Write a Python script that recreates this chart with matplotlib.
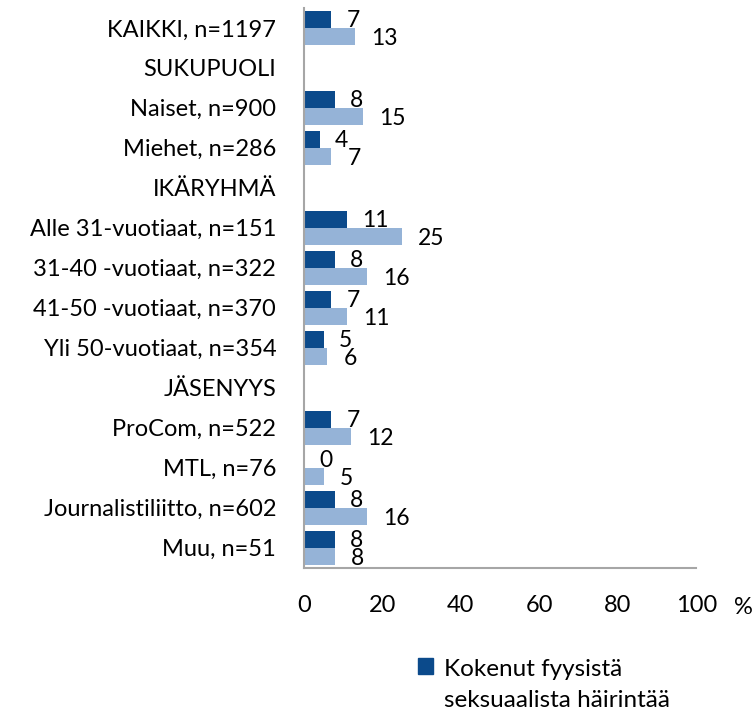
import numpy as np
import matplotlib
matplotlib.use('Agg')
import matplotlib.pyplot as plt
from matplotlib.patches import Patch, Rectangle
from matplotlib.legend_handler import HandlerPatch

plt.rcParams['font.family'] = ['Lato', 'DejaVu Sans']

CATEGORIES = ['KAIKKI, n=1197', 'SUKUPUOLI', 'Naiset, n=900', 'Miehet, n=286',
              'IKÄRYHMÄ', 'Alle 31-vuotiaat, n=151', '31-40 -vuotiaat, n=322',
              '41-50 -vuotiaat, n=370', 'Yli 50-vuotiaat, n=354', 'JÄSENYYS',
              'ProCom, n=522', 'MTL, n=76', 'Journalistiliitto, n=602', 'Muu, n=51']
PHYSICAL = [7, np.nan, 8, 4, np.nan, 11, 8, 7, 5, np.nan, 7, 0, 8, 8]
OTHER = [13, np.nan, 15, 7, np.nan, 25, 16, 11, 6, np.nan, 12, 5, 16, 8]
XTICKS = [0, 20, 40, 60, 80, 100]
LEGEND_LABEL = 'Kokenut fyysistä\nseksuaalista häirintää'

DARK = '#0B4A8B'
LIGHT = '#95B3D7'
AXIS = '#A6A6A6'


def top_square(legend, orig_handle, xdescent, ydescent, width, height, fontsize):
    # lift the square up to the first line of the two-line label
    return Rectangle((-xdescent, -ydescent + 0.8 * fontsize), width, height)


fig = plt.figure(figsize=(7.56, 7.15), dpi=100, facecolor='white')
ax = fig.add_axes([0.402, 0.206, 0.519, 0.783])

y = np.arange(len(CATEGORIES))
h = 0.43
dark_y = y - h / 2
light_y = y + h / 2
ax.barh(dark_y, PHYSICAL, height=h, color=DARK)
ax.barh(light_y, OTHER, height=h, color=LIGHT)

for yy, v in zip(dark_y, PHYSICAL):
    if np.isnan(v):
        continue
    ax.annotate(f'{v:.0f}', (v, yy), xytext=(15, -1), textcoords='offset pixels',
                ha='left', va='center', fontsize=16.5, color='black')
for yy, v in zip(light_y, OTHER):
    if np.isnan(v):
        continue
    ax.annotate(f'{v:.0f}', (v, yy), xytext=(16, -2), textcoords='offset pixels',
                ha='left', va='center', fontsize=16.5, color='black')

ax.set_xlim(0, 100)
ax.set_ylim(len(CATEGORIES) - 0.5, -0.5)
ax.set_yticks(y)
ax.set_yticklabels(CATEGORIES, fontsize=17)
ax.set_xticks(XTICKS)
ax.set_xticklabels([str(t) for t in XTICKS], fontsize=17)
ax.tick_params(axis='y', length=0, pad=20)
ax.tick_params(axis='x', length=0, pad=20)
for s in ['top', 'right']:
    ax.spines[s].set_visible(False)
for s in ['left', 'bottom']:
    ax.spines[s].set_color(AXIS)
    ax.spines[s].set_linewidth(1.5)

fig.text(743 / 756, 1 - 607 / 715, '%', fontsize=17, ha='center', va='center')

leg = fig.legend(handles=[Patch(color=DARK, label=LEGEND_LABEL)], loc='upper left',
                 bbox_to_anchor=(0.553, 0.078), frameon=False, fontsize=17.5,
                 handlelength=0.6, handleheight=0.6, handletextpad=0.45,
                 borderaxespad=0, borderpad=0,
                 handler_map={Patch: HandlerPatch(patch_func=top_square)})
for t in leg.get_texts():
    t.set_linespacing(1.6)

fig.savefig('out.png', dpi=100, facecolor='white')
